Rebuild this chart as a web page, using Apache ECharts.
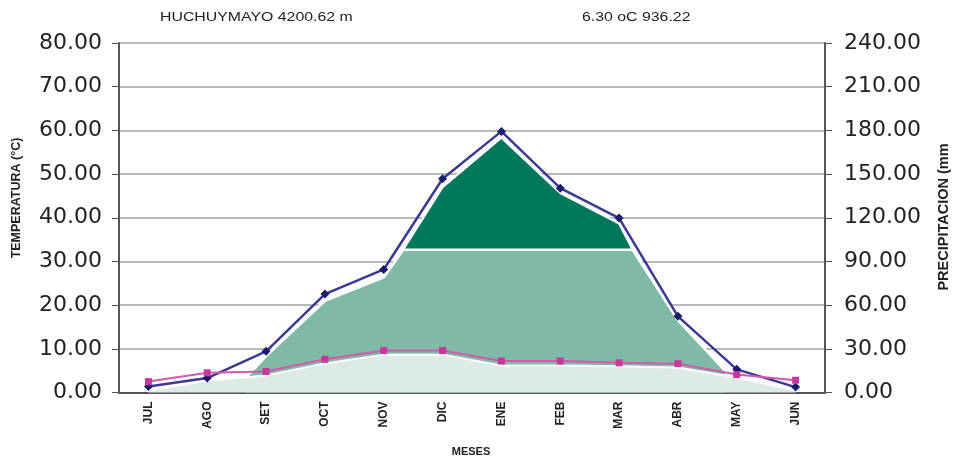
<!DOCTYPE html>
<html>
<head>
<meta charset="utf-8">
<script src="https://cdn.jsdelivr.net/npm/echarts@6/dist/echarts.min.js"></script>
<style>
  html, body { margin: 0; padding: 0; background: #fff; }
  #chart { width: 957px; height: 463px; }
</style>
</head>
<body>
<div id="chart"></div>
<script>
// months, jul -> jun
const months = ['JUL', 'AGO', 'SET', 'OCT', 'NOV', 'DIC', 'ENE', 'FEB', 'MAR', 'ABR', 'MAY', 'JUN'];

// temperatura media mensual (°C), eje izquierdo
const temperatura = [2.5, 4.5, 4.8, 7.6, 9.6, 9.6, 7.2, 7.2, 6.8, 6.6, 4.1, 2.8];

// precipitacion mensual (mm), eje derecho
const precipitacion = [4.1, 9.9, 28.3, 67.6, 84.5, 146.8, 179.3, 140.3, 119.8, 52.3, 15.9, 3.7];

// bordes de las zonas rellenas (mm), [posicion de mes, valor]
const zonaSeca = [[0, 1.4], [1, 8.3], [2, 11.7], [3, 20], [4, 26], [5, 26], [6, 18.6], [7, 18.6], [8, 18], [9, 17.2], [10, 10.3], [11, 1.4]];
const zonaHumeda = [[1.65, 10], [2, 25], [3, 63], [4, 79], [4.33, 98], [8.23, 98], [9, 49.6], [9.8, 15]];
const zonaSuperHumeda = [[4.33, 98], [5, 141], [6, 175], [7, 137], [8, 116], [8.23, 98]];

const tempTicks = {min: 0, max: 80, interval: 10};
const precTicks = {min: 0, max: 240, interval: 30};

const myChart = echarts.init(document.getElementById('chart'));

const labelFont = 'DejaVu Sans';
const axisColor = '#555';

const option = {
  animation: false,
  grid: {left: 119, right: 132, top: 43, bottom: 70.5},
  graphic: [
    {type: 'text', x: 160, y: 17, scaleX: 1.22,
      style: {text: 'HUCHUYMAYO 4200.62 m', font: '13px "Liberation Sans"', fill: '#222', verticalAlign: 'middle'}},
    {type: 'text', x: 582, y: 17, scaleX: 1.22,
      style: {text: '6.30 oC 936.22', font: '13px "Liberation Sans"', fill: '#222', verticalAlign: 'middle'}},
    {type: 'text', x: 17, y: 198, rotation: Math.PI / 2,
      style: {text: 'TEMPERATURA (°C)', font: 'bold 12.5px "Liberation Sans"', fill: '#222', align: 'center', verticalAlign: 'middle'}},
    {type: 'text', x: 944, y: 217, rotation: Math.PI / 2,
      style: {text: 'PRECIPITACION (mm', font: 'bold 14.5px "Liberation Sans"', fill: '#222', align: 'center', verticalAlign: 'middle'}},
    {type: 'text', x: 471, y: 452,
      style: {text: 'MESES', font: 'bold 11px "Liberation Sans"', fill: '#222', align: 'center', verticalAlign: 'middle'}}
  ],
  xAxis: [
    {
      type: 'category',
      data: months,
      axisLine: {onZero: false, lineStyle: {color: axisColor, width: 2}},
      axisTick: {length: 5, lineStyle: {color: axisColor}},
      axisLabel: {rotate: 90, margin: 9, fontSize: 12, fontWeight: 'bold', color: '#222', fontFamily: 'Liberation Sans'}
    },
    {
      type: 'value',
      min: -0.5,
      max: 11.5,
      show: false
    }
  ],
  yAxis: [
    {
      type: 'value',
      min: tempTicks.min,
      max: tempTicks.max,
      interval: tempTicks.interval,
      axisLine: {show: true, onZero: false, lineStyle: {color: axisColor, width: 2}},
      axisTick: {show: true, length: 7, lineStyle: {color: axisColor}},
      axisLabel: {margin: 17, fontSize: 22, color: '#222', fontFamily: labelFont,
        formatter: (v) => v.toFixed(2)},
      splitLine: {lineStyle: {color: '#b9b9b9', width: 2}}
    },
    {
      type: 'value',
      position: 'right',
      min: precTicks.min,
      max: precTicks.max,
      interval: precTicks.interval,
      axisLine: {show: true, onZero: false, lineStyle: {color: axisColor, width: 2}},
      axisTick: {show: true, length: 7, lineStyle: {color: axisColor}},
      axisLabel: {margin: 19, fontSize: 22, color: '#222', fontFamily: labelFont,
        formatter: (v) => v.toFixed(2)},
      splitLine: {show: false}
    }
  ],
  series: [
    {
      name: 'superhumedo',
      type: 'line',
      xAxisIndex: 1,
      yAxisIndex: 1,
      data: zonaSuperHumeda,
      symbol: 'none',
      lineStyle: {color: '#fff', width: 2},
      areaStyle: {color: '#00785c', opacity: 1}
    },
    {
      name: 'humedo',
      type: 'line',
      xAxisIndex: 1,
      yAxisIndex: 1,
      data: zonaHumeda,
      symbol: 'none',
      lineStyle: {color: '#fff', width: 2.5},
      areaStyle: {color: '#7fbaa8', opacity: 1}
    },
    {
      name: 'seco',
      type: 'line',
      xAxisIndex: 1,
      yAxisIndex: 1,
      data: zonaSeca,
      symbol: 'none',
      lineStyle: {color: '#fff', width: 2},
      areaStyle: {color: '#dcebe5', opacity: 1}
    },
    {
      name: 'Precipitacion',
      type: 'line',
      yAxisIndex: 1,
      data: precipitacion,
      symbol: 'diamond',
      symbolSize: 9,
      itemStyle: {color: '#1b1b6e'},
      lineStyle: {color: '#3a3a92', width: 2.5}
    },
    {
      name: 'Temperatura',
      type: 'line',
      yAxisIndex: 0,
      data: temperatura,
      symbol: 'rect',
      symbolSize: 7,
      itemStyle: {color: '#c8379a'},
      lineStyle: {color: '#d458ae', width: 2}
    }
  ]
};

myChart.setOption(option);
</script>
</body>
</html>
